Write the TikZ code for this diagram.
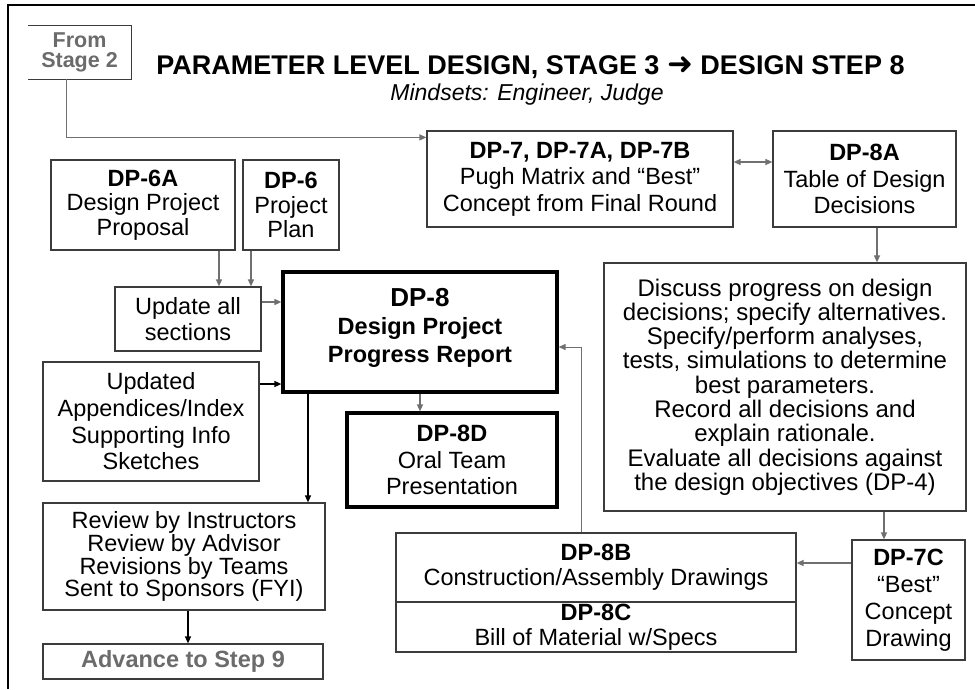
\documentclass[tikz,border=0pt]{standalone}
\usepackage{fontspec}
\setmainfont{Liberation Sans}
\newfontfamily\arrowfont{DejaVu Sans}
\usetikzlibrary{arrows.meta}
\definecolor{boxgray}{HTML}{3C3C3C}
\definecolor{linkgray}{HTML}{707070}
\definecolor{labelgray}{HTML}{6B6B6B}
\begin{document}
\begin{tikzpicture}[x=1pt,y=-1pt,
 card/.style={draw=boxgray,line width=1.2pt,align=center,inner sep=0pt,font=\fontsize{23.5}{24.5}\selectfont},
 hub/.style={card,draw=black,line width=3.2pt},
 link/.style={draw=linkgray,line width=1.3pt,-{Triangle[length=7pt,width=6pt]}},
 blink/.style={link,draw=black}]
\useasboundingbox (0,0) rectangle (975,689);
% frame, cut by the page on the right and at the bottom
\draw[line width=2pt] (8,689) -- (8,5) -- (975,5);

\node[align=center,inner sep=0pt,minimum width=103pt,minimum height=53pt,text=labelgray,font=\fontsize{21.5}{20}\selectfont\bfseries] (from) at (79.5,52.5) {From\\Stage 2};
\draw[draw=boxgray,line width=1.2pt] (from.north west) -- (from.north east) -- (from.south east) -- (from.south west);

\node[font=\fontsize{27}{30}\selectfont\bfseries] (title) at (530.5,67) {PARAMETER LEVEL DESIGN, STAGE 3 {\arrowfont\bfseries\fontsize{31}{30}\selectfont ➜} DESIGN STEP 8};
\node[font=\fontsize{23}{26}\selectfont\itshape] (mind) at (527,95) {Mindsets: Engineer, Judge};

\node[card,minimum width=306pt,minimum height=96pt,font=\fontsize{23.5}{26.5}\selectfont] (dpseven) at (580,179) {\textbf{DP-7, DP-7A, DP-7B}\\Pugh Matrix and “Best”\\Concept from Final Round};
\node[card,minimum width=183pt,minimum height=96pt,font=\fontsize{23.5}{26.5}\selectfont] (dpeightA) at (864.5,179) {\textbf{DP-8A}\\Table of Design\\Decisions};

\node[card,minimum width=184pt,minimum height=90pt] (dpsixA) at (143,205) {\textbf{DP-6A}\\Design Project\\Proposal};
\node[card,minimum width=96pt,minimum height=90pt] (dpsix) at (291,205) {\textbf{DP-6}\\Project\\Plan};
\node[card,minimum width=146pt,minimum height=64pt,font=\fontsize{23.5}{26.5}\selectfont] (update) at (188,319) {Update all\\sections};
\node[card,minimum width=216pt,minimum height=119pt,font=\fontsize{23.5}{26.7}\selectfont] (append) at (151,421.5) {Updated\\Appendices/Index\\Supporting Info\\Sketches};

\node[hub,minimum width=274pt,minimum height=120pt,text depth=14pt,font=\fontsize{23.5}{28}\selectfont\bfseries] (dpeight) at (420,332) {{\fontsize{26}{28}\selectfont DP-8}\\Design Project\\Progress Report};
\node[hub,minimum width=210pt,minimum height=94pt,font=\fontsize{23.5}{26.5}\selectfont] (dpeightD) at (452,460) {\textbf{DP-8D}\\Oral Team\\Presentation};

\node[card,minimum width=362pt,minimum height=248pt,font=\fontsize{24}{24.3}\selectfont] (discuss) at (785,387) {Discuss progress on design\\decisions; specify alternatives.\\Specify/perform analyses,\\tests, simulations to determine\\best parameters.\\Record all decisions and\\explain rationale.\\Evaluate all decisions against\\the design objectives (DP-4)};
\node[card,minimum width=113pt,minimum height=120pt,font=\fontsize{23.5}{27}\selectfont] (dpsevenC) at (908.5,600) {\textbf{DP-7C}\\“Best”\\Concept\\Drawing};

\node[card,minimum width=400pt,minimum height=69pt,font=\fontsize{23.5}{25}\selectfont] (dpeightB) at (596,567.5) {\textbf{DP-8B}\\Construction/Assembly Drawings};
\node[card,minimum width=400pt,minimum height=50pt,font=\fontsize{23.5}{25}\selectfont] (dpeightC) at (596,627) {\textbf{DP-8C}\\Bill of Material w/Specs};

\node[card,minimum width=282pt,minimum height=107pt,font=\fontsize{23.5}{21.7}\selectfont] (review) at (184,556.5) {Review by Instructors\\Review by Advisor\\Revisions by Teams\\Sent to Sponsors (FYI)};
\node[card,minimum width=280pt,minimum height=35pt,text=labelgray,font=\fontsize{23.5}{24.5}\selectfont\bfseries] (advance) at (183,661.5) {Advance to Step 9};

% connectors
\draw[link] ([xshift=-13pt]from.south) |- ([yshift=-7pt]dpseven.north west);
\draw[link,{Triangle[length=7pt,width=6pt]}-{Triangle[length=7pt,width=6pt]}] ([yshift=17pt]dpseven.east) -- ([yshift=17pt]dpeightA.west);
\draw[link] ([xshift=12.5pt]dpeightA.south) -- ([xshift=12.5pt]dpeightA.south |- discuss.north);
\draw[link] ([xshift=-24.5pt]dpsevenC.north |- discuss.south) -- ([xshift=-24.5pt]dpsevenC.north);
\draw[link] ([yshift=37pt]dpsevenC.west) -- ([yshift=37pt]dpsevenC.west -| dpeightB.east);
\draw[link,line width=1pt] ([xshift=-15pt]dpeightB.north) |- ([yshift=-15pt]dpeight.east);
\draw[link] ([xshift=76pt]dpsixA.south) -- ([xshift=76pt]dpsixA.south |- update.north);
\draw[link] ([xshift=-40pt]dpsix.south) -- ([xshift=-40pt]dpsix.south |- update.north);
\draw[link] ([yshift=17pt]update.east) -- ([yshift=17pt]update.east -| dpeight.west);
\draw[blink] ([yshift=37.5pt]append.east) -- ([yshift=37.5pt]append.east -| dpeight.west);
\draw[link] (dpeight.south) -- (dpeight.south |- dpeightD.north);
\draw[blink] ([xshift=-112pt]dpeight.south) -- ([xshift=-112pt]dpeight.south |- review.north);
\draw[blink] ([xshift=4pt]review.south) -- ([xshift=4pt]review.south |- advance.north);
\end{tikzpicture}
\end{document}
